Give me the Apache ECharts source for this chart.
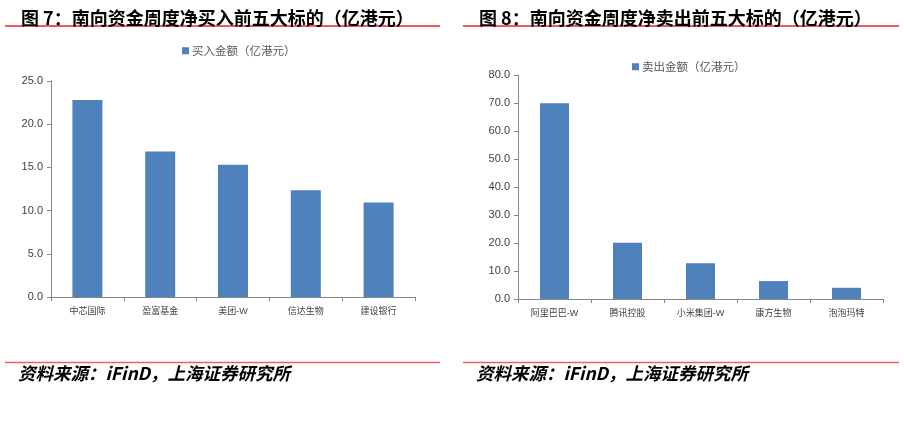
<!DOCTYPE html>
<html><head><meta charset="utf-8">
<script src="https://cdn.jsdelivr.net/npm/echarts@6/dist/echarts.min.js"></script>
<style>html,body{margin:0;padding:0;background:#fff}#c{width:904px;height:429px}</style>
</head><body><div id="c"></div>
<script>
var buyCategories = ['中芯国际', '盈富基金', '美团-W', '信达生物', '建设银行'];
var buyValues = [22.8, 16.85, 15.3, 12.35, 10.95];
var sellCategories = ['阿里巴巴-W', '腾讯控股', '小米集团-W', '康方生物', '泡泡玛特'];
var sellValues = [69.9, 20.1, 12.8, 6.4, 4.0];
var buyTicks = [0, 25, 5];
var sellTicks = [0, 80, 10];
var buyName = '买入金额（亿港元）';
var sellName = '卖出金额（亿港元）';
var titleLeft = '图 7：南向资金周度净买入前五大标的（亿港元）';
var titleRight = '图 8：南向资金周度净卖出前五大标的（亿港元）';
var sourceText = '资料来源：iFinD，上海证券研究所';

var cjk = '"Liberation Sans", "Noto Sans CJK SC", sans-serif';
var axisColor = '#868686';
var barColor = '#4F81BD';
function xAxis(idx, cats) {
  return {
    type: 'category', gridIndex: idx, data: cats,
    axisLine: {lineStyle: {color: axisColor}},
    axisTick: {show: true, alignWithLabel: false, length: 4, lineStyle: {color: axisColor}},
    axisLabel: {color: '#404040', fontSize: 9, fontFamily: cjk, margin: 10, interval: 0}
  };
}
function yAxis(idx, t) {
  return {
    type: 'value', gridIndex: idx, min: t[0], max: t[1], interval: t[2],
    axisLine: {show: true, lineStyle: {color: axisColor}},
    axisTick: {show: true, length: 4, lineStyle: {color: axisColor}},
    splitLine: {show: false},
    axisLabel: {color: '#404040', fontSize: 11, fontFamily: cjk, margin: 8,
      formatter: function (v) { return v.toFixed(1); }}
  };
}
var chart = echarts.init(document.getElementById('c'), null, {renderer: 'canvas'});
chart.setOption({
  animation: false,
  backgroundColor: '#fff',
  title: [
    {text: titleLeft, left: 16, top: 4, textStyle: {fontSize: 18, fontWeight: 'bold', color: '#000', fontFamily: '"Noto Sans CJK SC", sans-serif'}},
    {text: titleRight, left: 474, top: 4, textStyle: {fontSize: 18, fontWeight: 'bold', color: '#000', fontFamily: '"Noto Sans CJK SC", sans-serif'}}
  ],
  legend: [
    {data: [buyName], left: 177, top: 40, itemWidth: 7, itemHeight: 7, itemGap: 3, icon: 'rect',
      textStyle: {fontSize: 11.5, color: '#595959', fontFamily: '"Noto Sans CJK SC", sans-serif', padding: [0, 0, 0, -2]}},
    {data: [sellName], left: 627, top: 56, itemWidth: 7, itemHeight: 7, itemGap: 3, icon: 'rect',
      textStyle: {fontSize: 11.5, color: '#595959', fontFamily: '"Noto Sans CJK SC", sans-serif', padding: [0, 0, 0, -2]}}
  ],
  grid: [
    {left: 51, top: 81, width: 364, height: 216},
    {left: 518, top: 75, width: 365, height: 224}
  ],
  xAxis: [xAxis(0, buyCategories), xAxis(1, sellCategories)],
  yAxis: [yAxis(0, buyTicks), yAxis(1, sellTicks)],
  series: [
    {name: buyName, type: 'bar', xAxisIndex: 0, yAxisIndex: 0, data: buyValues, barWidth: 30,
      itemStyle: {color: barColor}},
    {name: sellName, type: 'bar', xAxisIndex: 1, yAxisIndex: 1, data: sellValues, barWidth: 29,
      itemStyle: {color: barColor}}
  ],
  graphic: [
    {type: 'line', shape: {x1: 5, y1: 26, x2: 440, y2: 26}, style: {stroke: '#E8242A', lineWidth: 1.5}},
    {type: 'line', shape: {x1: 463, y1: 26, x2: 899, y2: 26}, style: {stroke: '#E8242A', lineWidth: 1.5}},
    {type: 'line', shape: {x1: 5, y1: 362.5, x2: 440, y2: 362.5}, style: {stroke: '#F06060', lineWidth: 1.5}},
    {type: 'line', shape: {x1: 463, y1: 362.5, x2: 899, y2: 362.5}, style: {stroke: '#F06060', lineWidth: 1.5}},
    {type: 'text', left: 18, top: 365, style: {text: sourceText, fill: '#000', font: 'italic bold 17.5px "Noto Sans CJK SC", sans-serif'}},
    {type: 'text', left: 476, top: 365, style: {text: sourceText, fill: '#000', font: 'italic bold 17.5px "Noto Sans CJK SC", sans-serif'}}
  ]
});
</script></body></html>
